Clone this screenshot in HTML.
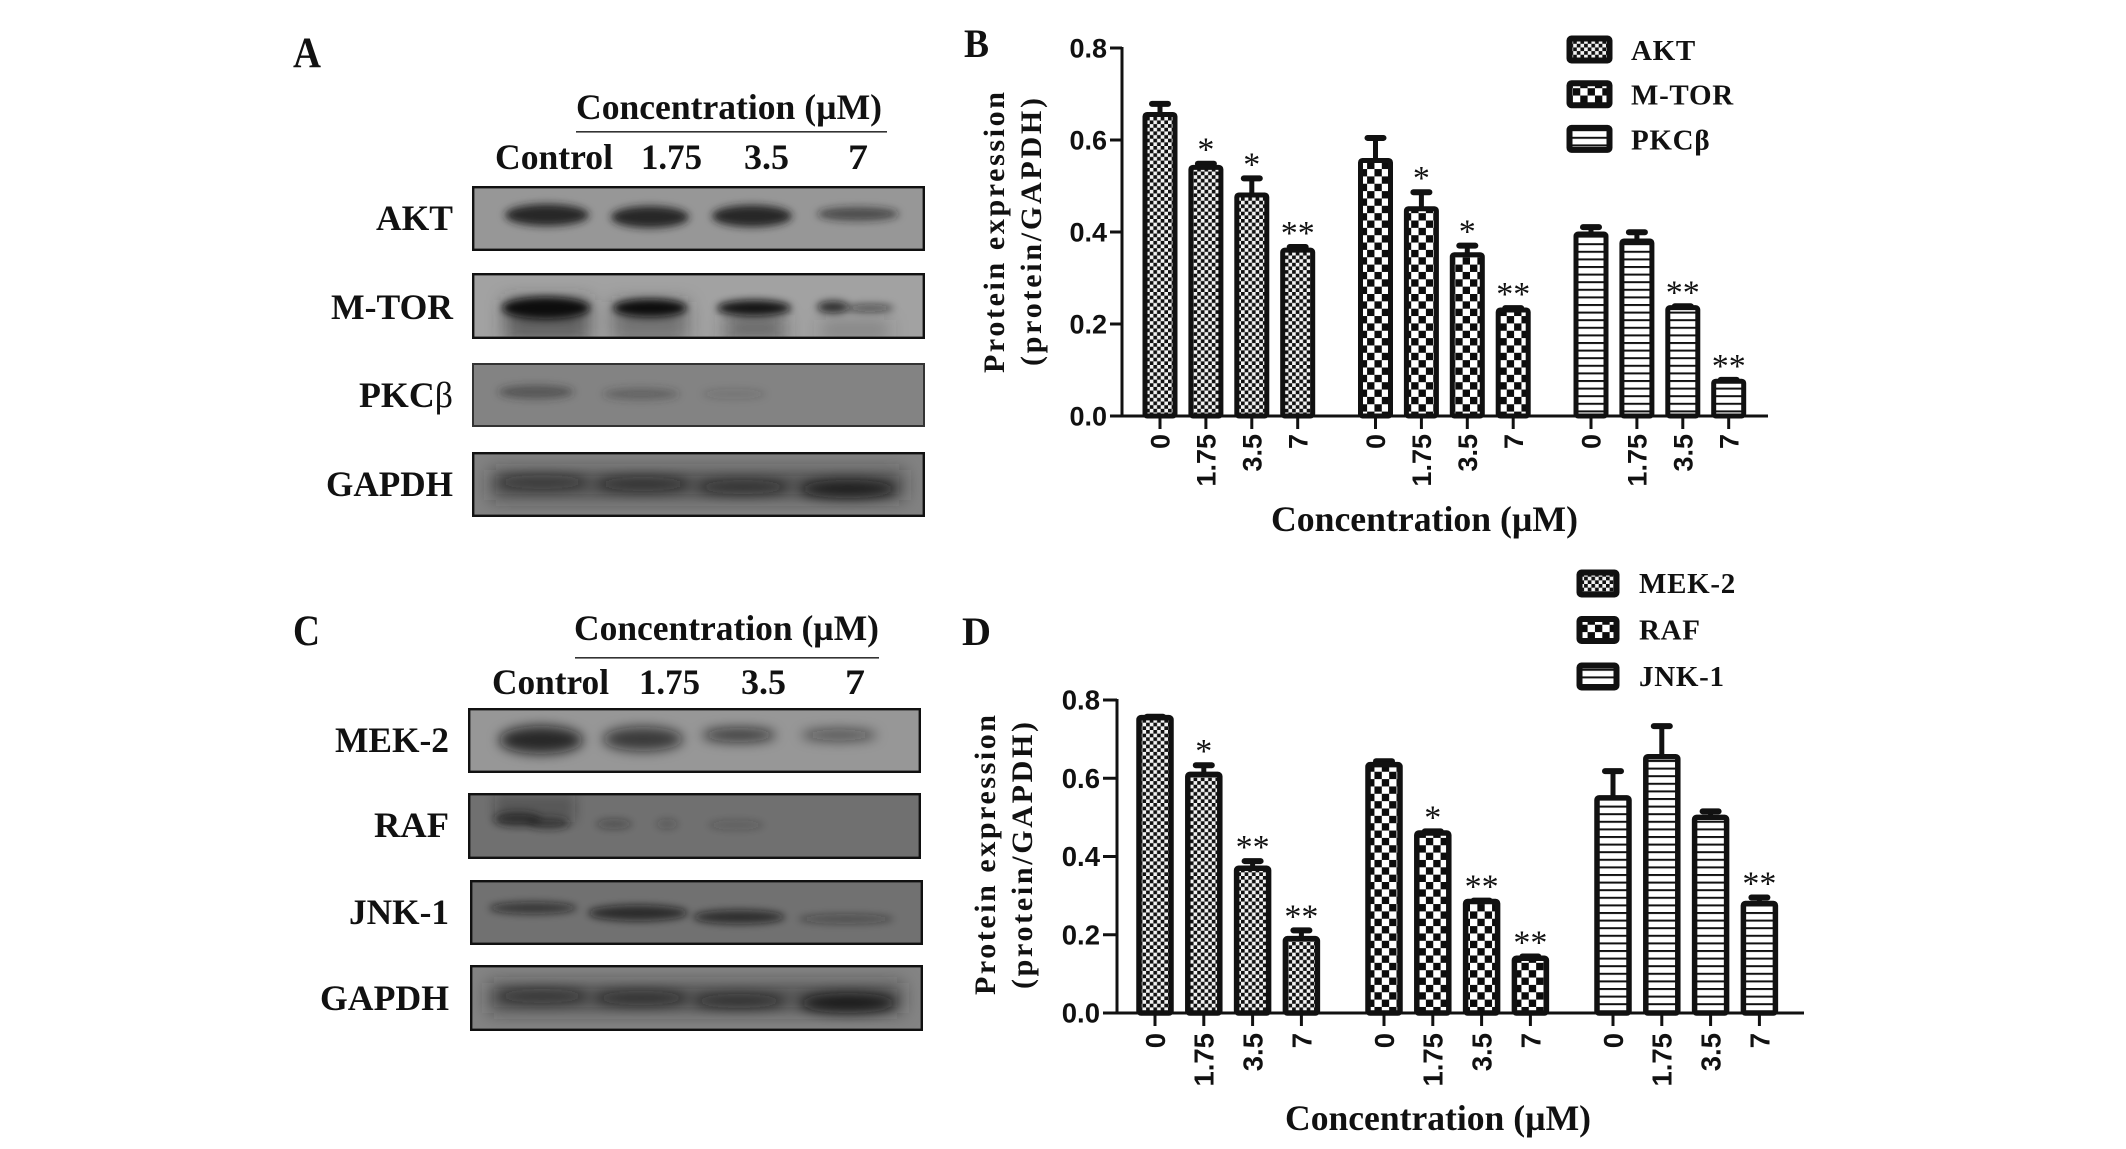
<!DOCTYPE html>
<html lang="en">
<head>
<meta charset="utf-8">
<title>Western blots and protein expression charts</title>
<style>
html,body{margin:0;padding:0;background:#fff;}
svg#figure{display:block;}
text{fill:#111;}
.serif{font-family:"Liberation Serif",serif;font-weight:bold;}
.sans{font-family:"Liberation Sans",sans-serif;font-weight:bold;}
</style>
</head>
<body>
<svg id="figure" xmlns="http://www.w3.org/2000/svg" width="2126" height="1149" viewBox="0 0 2126 1149">
<defs>
  <filter id="blur3" x="-50%" y="-150%" width="200%" height="400%"><feGaussianBlur stdDeviation="4"/></filter>
  <filter id="blur5" x="-50%" y="-150%" width="200%" height="400%"><feGaussianBlur stdDeviation="6"/></filter>
  <filter id="blur8" x="-50%" y="-200%" width="200%" height="500%"><feGaussianBlur stdDeviation="9"/></filter>
  <pattern id="fine-check" patternUnits="userSpaceOnUse" width="7.3" height="7.3">
    <rect width="7.3" height="7.3" fill="#f2f2f2"/>
    <rect width="3.65" height="3.65" fill="#111"/>
    <rect x="3.65" y="3.65" width="3.65" height="3.65" fill="#111"/>
  </pattern>
  <pattern id="big-check" patternUnits="userSpaceOnUse" width="14.7" height="14.7">
    <rect width="14.7" height="14.7" fill="#fff"/>
    <rect width="7.35" height="7.35" fill="#0c0c0c"/>
    <rect x="7.35" y="7.35" width="7.35" height="7.35" fill="#0c0c0c"/>
  </pattern>
  <pattern id="stripes" patternUnits="userSpaceOnUse" width="7.6" height="7.6">
    <rect width="7.6" height="7.6" fill="#fff"/>
    <rect y="0" width="7.6" height="2" fill="#111"/>
  </pattern>
</defs>

<!-- PANEL A -->
<g>
  <text class="serif" x="293" y="67" font-size="43" textLength="28" lengthAdjust="spacingAndGlyphs">A</text>
  <text class="serif" x="576" y="119" font-size="36" textLength="306" lengthAdjust="spacingAndGlyphs">Concentration (µM)</text>
  <rect x="576" y="131" width="311" height="1.6" fill="#333"/>
  <text class="serif" x="495" y="169" font-size="36" textLength="118" lengthAdjust="spacingAndGlyphs">Control</text>
  <text class="serif" x="641" y="169" font-size="36" textLength="61" lengthAdjust="spacingAndGlyphs">1.75</text>
  <text class="serif" x="744" y="169" font-size="36" textLength="45" lengthAdjust="spacingAndGlyphs">3.5</text>
  <text class="serif" x="848" y="169" font-size="36" textLength="20" lengthAdjust="spacingAndGlyphs">7</text>

  <text class="serif" x="376" y="230" font-size="36" textLength="77" lengthAdjust="spacingAndGlyphs">AKT</text>
  <text class="serif" x="331" y="319" font-size="36" textLength="122" lengthAdjust="spacingAndGlyphs">M-TOR</text>
  <text class="serif" x="359" y="407" font-size="36" textLength="94" lengthAdjust="spacingAndGlyphs">PKC<tspan font-weight="normal">β</tspan></text>
  <text class="serif" x="326" y="496" font-size="36" textLength="127" lengthAdjust="spacingAndGlyphs">GAPDH</text>

  <svg x="472" y="186" width="453" height="65" viewBox="472 186 453 65">
    <rect x="472" y="186" width="453" height="65" fill="#979797"/>
    <g filter="url(#blur3)" fill="#1c1c1c">
      <ellipse cx="547" cy="215" rx="42" ry="11" opacity=".92"/>
      <ellipse cx="650" cy="217" rx="39" ry="11" opacity=".92"/>
      <ellipse cx="752" cy="216" rx="40" ry="11" opacity=".92"/>
      <ellipse cx="858" cy="214" rx="41" ry="7" opacity=".62"/>
    </g>
    <rect x="473.2" y="187.2" width="450.6" height="62.6" fill="none" stroke="#111" stroke-width="2.4"/>
  </svg>

  <svg x="472" y="273" width="453" height="66" viewBox="472 273 453 66">
    <rect x="472" y="273" width="453" height="66" fill="#a2a2a2"/>
    <g filter="url(#blur8)" fill="#333">
      <rect x="505" y="300" width="85" height="42" opacity=".6"/>
      <rect x="612" y="302" width="76" height="40" opacity=".42"/>
      <rect x="725" y="315" width="60" height="26" opacity=".5"/>
      <rect x="820" y="320" width="70" height="20" opacity=".25"/>
    </g>
    <g filter="url(#blur3)" fill="#0c0c0c">
      <ellipse cx="546" cy="308" rx="44" ry="11"/>
      <ellipse cx="650" cy="308" rx="37" ry="9"/>
      <ellipse cx="754" cy="308" rx="37" ry="8" opacity=".95"/>
      <ellipse cx="833" cy="307" rx="16" ry="6" opacity=".8"/>
      <ellipse cx="870" cy="308" rx="24" ry="4" opacity=".55"/>
    </g>
    <rect x="473.2" y="274.2" width="450.6" height="63.6" fill="none" stroke="#111" stroke-width="2.4"/>
  </svg>

  <svg x="472" y="363" width="453" height="64" viewBox="472 363 453 64">
    <rect x="472" y="363" width="453" height="64" fill="#838383"/>
    <g filter="url(#blur3)" fill="#2c2c2c">
      <ellipse cx="536" cy="392" rx="38" ry="7" opacity=".5"/>
      <ellipse cx="641" cy="394" rx="38" ry="6" opacity=".38"/>
      <ellipse cx="734" cy="394" rx="32" ry="5" opacity=".16"/>
    </g>
    <rect x="473" y="364" width="451" height="62" fill="none" stroke="#333" stroke-width="2"/>
  </svg>

  <svg x="472" y="452" width="453" height="65" viewBox="472 452 453 65">
    <rect x="472" y="452" width="453" height="65" fill="#828282"/>
    <g filter="url(#blur8)" fill="#222">
      <rect x="490" y="470" width="415" height="30" opacity=".5"/>
    </g>
    <g filter="url(#blur5)" fill="#111">
      <ellipse cx="542" cy="482" rx="46" ry="7" opacity=".5"/>
      <ellipse cx="643" cy="484" rx="47" ry="7" opacity=".6"/>
      <ellipse cx="743" cy="487" rx="46" ry="7" opacity=".6"/>
      <ellipse cx="848" cy="489" rx="48" ry="9" opacity=".82"/>
    </g>
    <rect x="473.2" y="453.2" width="450.6" height="62.6" fill="none" stroke="#111" stroke-width="2.4"/>
  </svg>
</g>

<!-- PANEL C -->
<g>
  <text class="serif" x="293" y="645" font-size="43" textLength="27" lengthAdjust="spacingAndGlyphs">C</text>
  <text class="serif" x="574" y="640" font-size="36" textLength="305" lengthAdjust="spacingAndGlyphs">Concentration (µM)</text>
  <rect x="575" y="657" width="304" height="1.6" fill="#333"/>
  <text class="serif" x="492" y="694" font-size="36" textLength="117" lengthAdjust="spacingAndGlyphs">Control</text>
  <text class="serif" x="639" y="694" font-size="36" textLength="61" lengthAdjust="spacingAndGlyphs">1.75</text>
  <text class="serif" x="741" y="694" font-size="36" textLength="45" lengthAdjust="spacingAndGlyphs">3.5</text>
  <text class="serif" x="845" y="694" font-size="36" textLength="20" lengthAdjust="spacingAndGlyphs">7</text>

  <text class="serif" x="335" y="752" font-size="36" textLength="114" lengthAdjust="spacingAndGlyphs">MEK-2</text>
  <text class="serif" x="374" y="837" font-size="36" textLength="75" lengthAdjust="spacingAndGlyphs">RAF</text>
  <text class="serif" x="349" y="924" font-size="36" textLength="100" lengthAdjust="spacingAndGlyphs">JNK-1</text>
  <text class="serif" x="320" y="1010" font-size="36" textLength="129" lengthAdjust="spacingAndGlyphs">GAPDH</text>

  <svg x="468" y="708" width="453" height="65" viewBox="468 710 453 65">
    <rect x="468" y="710" width="453" height="65" fill="#979797"/>
    <g filter="url(#blur5)" fill="#111">
      <ellipse cx="541" cy="742" rx="42" ry="14" opacity=".82"/>
      <ellipse cx="643" cy="741" rx="40" ry="12" opacity=".7"/>
      <ellipse cx="739" cy="737" rx="37" ry="7" opacity=".7"/>
      <ellipse cx="839" cy="737" rx="38" ry="6" opacity=".55"/>
    </g>
    <rect x="469.2" y="711.2" width="450.6" height="62.6" fill="none" stroke="#111" stroke-width="2.4"/>
  </svg>

  <svg x="468" y="793" width="453" height="66" viewBox="468 796 453 66">
    <rect x="468" y="796" width="453" height="66" fill="#707070"/>
    <g filter="url(#blur5)" fill="#222">
      <rect x="495" y="797" width="80" height="28" opacity=".3"/>
    </g>
    <g filter="url(#blur3)" fill="#1a1a1a">
      <ellipse cx="518" cy="822" rx="24" ry="7" opacity=".7"/>
      <ellipse cx="548" cy="826" rx="22" ry="6" opacity=".62"/>
      <ellipse cx="614" cy="827" rx="18" ry="5" opacity=".35"/>
      <ellipse cx="667" cy="827" rx="11" ry="5" opacity=".25"/>
      <ellipse cx="736" cy="828" rx="28" ry="5" opacity=".22"/>
    </g>
    <rect x="469.2" y="797.2" width="450.6" height="63.6" fill="none" stroke="#111" stroke-width="2.4"/>
  </svg>

  <svg x="470" y="880" width="453" height="65" viewBox="470 883 453 65">
    <rect x="470" y="883" width="453" height="65" fill="#717171"/>
    <g filter="url(#blur3)" fill="#151515">
      <ellipse cx="533" cy="911" rx="44" ry="6" opacity=".62"/>
      <ellipse cx="638" cy="916" rx="50" ry="8" opacity=".72"/>
      <ellipse cx="739" cy="920" rx="46" ry="7" opacity=".7"/>
      <ellipse cx="846" cy="922" rx="48" ry="5" opacity=".38"/>
    </g>
    <rect x="471.2" y="884.2" width="450.6" height="62.6" fill="none" stroke="#111" stroke-width="2.4"/>
  </svg>

  <svg x="470" y="965" width="453" height="66" viewBox="470 968 453 66">
    <rect x="470" y="968" width="453" height="66" fill="#848484"/>
    <g filter="url(#blur8)" fill="#222">
      <rect x="488" y="986" width="415" height="30" opacity=".5"/>
    </g>
    <g filter="url(#blur5)" fill="#111">
      <ellipse cx="542" cy="999" rx="46" ry="7" opacity=".55"/>
      <ellipse cx="641" cy="1001" rx="47" ry="7" opacity=".62"/>
      <ellipse cx="739" cy="1004" rx="46" ry="7" opacity=".62"/>
      <ellipse cx="848" cy="1006" rx="48" ry="10" opacity=".85"/>
    </g>
    <rect x="471.2" y="969.2" width="450.6" height="63.6" fill="none" stroke="#111" stroke-width="2.4"/>
  </svg>
</g>

<g id="chart-b"></g>
<g id="chart-d"></g>
</svg>

<script>
// Shared axis data
const doseLabels = ['0', '1.75', '3.5', '7'];
const yTickValues = [0, 0.2, 0.4, 0.6, 0.8];
const yTickLabels = ['0.0', '0.2', '0.4', '0.6', '0.8'];

// Chart B data
const seriesNamesB = ['AKT', 'M-TOR', 'PKCβ'];
const valuesB1 = [0.661, 0.546, 0.486, 0.366];
const valuesB2 = [0.561, 0.456, 0.356, 0.236];
const valuesB3 = [0.401, 0.386, 0.241, 0.081];
const errorsB1 = [0.024, 0.009, 0.037, 0.008];
const errorsB2 = [0.05, 0.037, 0.021, 0.005];
const errorsB3 = [0.016, 0.02, 0.004, 0.004];
const marksB1 = ['', '*', '*', '**'];
const marksB2 = ['', '*', '*', '**'];
const marksB3 = ['', '', '**', '**'];

// Chart D data
const seriesNamesD = ['MEK-2', 'RAF', 'JNK-1'];
const valuesD1 = [0.762, 0.617, 0.377, 0.197];
const valuesD2 = [0.642, 0.467, 0.292, 0.147];
const valuesD3 = [0.557, 0.662, 0.507, 0.287];
const errorsD1 = [0.003, 0.024, 0.019, 0.022];
const errorsD2 = [0.009, 0.005, 0.003, 0.005];
const errorsD3 = [0.069, 0.079, 0.016, 0.016];
const marksD1 = ['', '*', '**', '**'];
const marksD2 = ['', '*', '**', '**'];
const marksD3 = ['', '', '', '**'];

const SVGNS = 'http://www.w3.org/2000/svg';
const patternIds = ['fine-check', 'big-check', 'stripes'];

function make(parent, tag, attrs, content) {
  const node = document.createElementNS(SVGNS, tag);
  for (const key in attrs) node.setAttribute(key, attrs[key]);
  if (content !== undefined) node.textContent = content;
  parent.appendChild(node);
  return node;
}

function drawChart(root, layout, seriesNames, seriesValues, seriesErrors, seriesMarks) {
  const yScale = v => layout.y0 - (v / layout.yMax) * layout.plotH;
  const xScale = (g, i) => layout.x0 + g * layout.groupStep + i * layout.barStep;

  // Error bars, bars and significance marks
  seriesValues.forEach((values, g) => {
    values.forEach((v, i) => {
      const cx = xScale(g, i);
      const topY = yScale(v);
      const errY = yScale(v + seriesErrors[g][i]);

      const stem = make(root, 'line', { x1: cx, x2: cx, y1: errY + 3, y2: topY + 2, stroke: '#111', 'stroke-width': 5 });
      
      

      const cap = make(root, 'line', { x1: cx - 8, x2: cx + 8, y1: errY + 3, y2: errY + 3, stroke: '#111', 'stroke-width': 6, 'stroke-linecap': 'round' });
      
      

      const half = layout.barW / 2 - layout.stroke / 2;
      const bar = make(root, 'rect', {
        x: cx - half, y: topY + layout.stroke / 2,
        width: half * 2, height: Math.max(0, layout.y0 - topY - layout.stroke / 2),
        rx: 2, fill: 'url(#' + patternIds[g] + ')', stroke: '#111', 'stroke-width': layout.stroke
      });
      
      

      if (seriesMarks[g][i]) {
        const mark = make(root, 'text', {
          x: cx, y: errY - 16 + 16, 'text-anchor': 'middle',
          'font-family': '"Liberation Serif",serif', 'font-size': 34
        }, seriesMarks[g][i]);
        
        
      }

      const tick = make(root, 'line', { x1: cx, x2: cx, y1: layout.y0, y2: layout.y0 + 13, stroke: '#111', 'stroke-width': 3 });
      
      

      const tickLabel = make(root, 'text', {
        class: 'sans', x: cx + layout.tickFont * 0.36, y: layout.y0 + layout.xLabelGap,
        'text-anchor': 'end', 'font-size': layout.tickFont,
        transform: 'rotate(-90 ' + (cx + layout.tickFont * 0.36) + ' ' + (layout.y0 + layout.xLabelGap) + ')'
      }, doseLabels[i]);
      
      
    });
  });

  // Axes
  const yAxis = make(root, 'line', { x1: layout.axisX, x2: layout.axisX, y1: yScale(layout.yMax) - 1, y2: layout.y0 + 1, stroke: '#111', 'stroke-width': 3 });
  
  

  const xAxis = make(root, 'line', { x1: layout.xAxisStart, x2: layout.xAxisEnd, y1: layout.y0, y2: layout.y0, stroke: '#111', 'stroke-width': 3 });
  
  

  yTickValues.forEach((v, i) => {
    const tick = make(root, 'line', { x1: layout.xAxisStart, x2: layout.axisX, y1: yScale(v), y2: yScale(v), stroke: '#111', 'stroke-width': 3 });
    
    

    const label = make(root, 'text', {
      class: 'sans', x: layout.yLabelX, y: yScale(v) + layout.tickFont * 0.35,
      'text-anchor': 'end', 'font-size': layout.tickFont
    }, yTickLabels[i]);
    
    
  });

  // Legend
  seriesNames.forEach((name, g) => {
    const swatch = make(root, 'rect', {
      x: layout.legendX + 2.5, y: layout.legendY + g * layout.legendStep + 2.5,
      width: layout.legendW - 5, height: layout.legendH - 5, rx: 2,
      fill: 'url(#' + patternIds[g] + ')', stroke: '#111', 'stroke-width': 6
    });
    
    

    const text = make(root, 'text', {
      class: 'serif', x: layout.legendTextX, y: layout.legendBase + g * layout.legendStep,
      'font-size': 29, 'letter-spacing': 0.7
    }, name);
    
    
  });

  // Titles
  const title1 = make(root, 'text', {
    class: 'serif', x: layout.title1X, y: layout.title1Y, 'font-size': 30,
    textLength: layout.title1Len, lengthAdjust: 'spacing',
    transform: 'rotate(-90 ' + layout.title1X + ' ' + layout.title1Y + ')'
  }, 'Protein expression');
  
  

  const title2 = make(root, 'text', {
    class: 'serif', x: layout.title2X, y: layout.title2Y, 'font-size': 30,
    textLength: layout.title2Len, lengthAdjust: 'spacing',
    transform: 'rotate(-90 ' + layout.title2X + ' ' + layout.title2Y + ')'
  }, '(protein/GAPDH)');
  
  

  const xTitle = make(root, 'text', {
    class: 'serif', x: layout.xTitleX, y: layout.xTitleY, 'font-size': 36,
    textLength: layout.xTitleLen, lengthAdjust: 'spacingAndGlyphs'
  }, 'Concentration (µM)');
  
  

  const letter = make(root, 'text', {
    class: 'serif', x: layout.letterX, y: layout.letterY, 'font-size': 40,
    textLength: layout.letterW, lengthAdjust: 'spacingAndGlyphs'
  }, layout.letter);
  
  
}

drawChart(document.getElementById('chart-b'), {
  y0: 416, plotH: 368, yMax: 0.8, x0: 1160, barStep: 45.9, groupStep: 215.5,
  barW: 35, stroke: 5, axisX: 1122, xAxisStart: 1110, xAxisEnd: 1768,
  yLabelX: 1107, tickFont: 27, xLabelGap: 18,
  legendX: 1567, legendY: 36, legendW: 45, legendH: 27, legendStep: 44.7,
  legendTextX: 1631, legendBase: 60,
  title1X: 1004, title1Y: 373, title1Len: 281,
  title2X: 1041, title2Y: 366, title2Len: 268,
  xTitleX: 1271, xTitleY: 531, xTitleLen: 307,
  letter: 'B', letterX: 964, letterY: 57, letterW: 25
}, seriesNamesB, [valuesB1, valuesB2, valuesB3], [errorsB1, errorsB2, errorsB3], [marksB1, marksB2, marksB3]);

drawChart(document.getElementById('chart-d'), {
  y0: 1013, plotH: 313, yMax: 0.8, x0: 1155, barStep: 48.8, groupStep: 229,
  barW: 37.5, stroke: 5.5, axisX: 1117, xAxisStart: 1103, xAxisEnd: 1804,
  yLabelX: 1100, tickFont: 27.5, xLabelGap: 20,
  legendX: 1577, legendY: 570, legendW: 42, legendH: 27, legendStep: 46.5,
  legendTextX: 1639, legendBase: 593,
  title1X: 995, title1Y: 995, title1Len: 280,
  title2X: 1032, title2Y: 989, title2Len: 267,
  xTitleX: 1285, xTitleY: 1130, xTitleLen: 306,
  letter: 'D', letterX: 962, letterY: 645, letterW: 29
}, seriesNamesD, [valuesD1, valuesD2, valuesD3], [errorsD1, errorsD2, errorsD3], [marksD1, marksD2, marksD3]);
</script>
</body>
</html>
